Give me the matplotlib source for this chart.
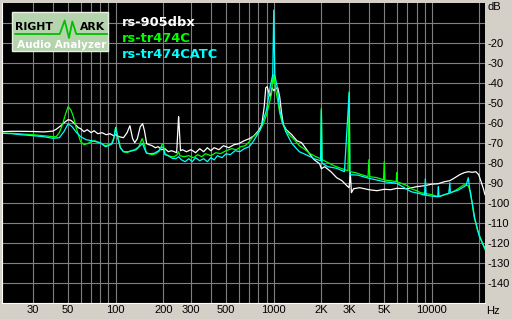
import numpy as np
import matplotlib
matplotlib.use("Agg")
import matplotlib.pyplot as plt
from matplotlib.patches import Rectangle

# rs-905dbx (white)
f_905dbx = [19, 22, 25, 30, 35, 40, 42, 45, 48, 50, 52, 55, 58, 60, 63, 66, 70, 73, 77, 82,
            87, 92, 97, 100, 105, 112, 118, 123, 128, 132, 137, 143, 148, 152, 157, 163, 170,
            178, 186, 195, 205, 215, 225, 235, 243, 248, 250, 253, 257, 265, 280, 300, 320,
            340, 360, 380, 400, 420, 450, 480, 520, 560, 600, 650, 700, 750, 800, 840, 870,
            890, 910, 930, 950, 975, 1000, 1030, 1060, 1090, 1120, 1150, 1200, 1300, 1400,
            1500, 1600, 1700, 1800, 1950, 2000, 2100, 2300, 2500, 2700, 2900, 3000, 3050,
            3100, 3200, 3500, 4000, 4500, 5000, 5500, 6000, 7000, 8000, 9000, 10000, 11000,
            12000, 13000, 14000, 15000, 16000, 17000, 18000, 19000, 19800, 20500, 21200, 21700]
db_905dbx = [-64.5, -64.3, -64.3, -64.4, -64.6, -64.2, -63.3, -61.5, -59.5, -58.5, -58.8,
             -60.5, -62.5, -63.0, -64.5, -63.5, -65.0, -64.0, -65.5, -65.0, -66.0, -65.5,
             -66.5, -66.0, -67.0, -67.5, -65.0, -61.5, -68.0, -70.0, -68.0, -62.0, -60.5,
             -64.0, -70.5, -71.0, -71.5, -72.5, -72.0, -73.5, -73.0, -74.5, -74.0, -74.5,
             -75.0, -62.0, -57.0, -64.0, -74.0, -73.5, -74.5, -73.5, -75.0, -73.0, -74.5,
             -72.5, -74.0, -72.5, -73.5, -71.5, -72.5, -71.0, -70.5, -69.0, -68.0, -66.5,
             -64.0, -61.0, -52.0, -42.5, -42.0, -45.0, -47.0, -42.5, -44.0, -43.0, -42.5,
             -47.0, -55.0, -61.0, -63.5, -66.0, -69.0, -70.0, -73.0, -76.0, -78.5, -80.5,
             -83.0, -82.0, -84.5, -87.5, -89.0, -91.5, -92.5, -85.0, -95.0, -93.0, -92.5,
             -93.5, -94.0, -93.3, -93.5, -92.8, -93.0, -92.0, -91.5, -90.7, -90.5, -89.5,
             -89.0, -87.5, -86.0, -85.0, -84.5, -84.8, -84.5, -86.0, -89.5, -93.0, -96.0]

# rs-tr474C (green)
f_474c = [19, 22, 25, 30, 35, 40, 42, 44, 46, 48, 50, 52, 54, 56, 58, 60, 63, 66, 70, 74, 78,
          82, 86, 90, 94, 97, 100, 103, 107, 112, 118, 125, 132, 140, 147, 152, 156, 162, 170,
          180, 190, 196, 200, 205, 215, 225, 235, 245, 250, 255, 270, 290, 310, 330, 350, 370,
          400, 430, 460, 500, 540, 580, 620, 660, 700, 740, 780, 820, 860, 900, 940, 970, 990,
          1000, 1010, 1030, 1060, 1090, 1130, 1180, 1250, 1350, 1450, 1550, 1700, 1850, 1980,
          2000, 2020, 2150, 2400, 2700, 2950, 3000, 3030, 3300, 3600, 3950, 4000, 4050, 4500,
          4950, 5000, 5050, 5500, 5950, 6000, 6050, 6500, 7000, 7400, 8000, 8500, 9000, 10000,
          11000, 12000, 13000, 14000, 15000, 16000, 17000, 17600, 18500, 19500, 20500, 21700]
db_474c = [-65.3, -65.3, -65.6, -66.0, -66.5, -67.0, -67.0, -65.0, -61.0, -56.0, -52.0, -53.5,
           -57.0, -62.0, -66.0, -69.5, -71.0, -70.5, -69.5, -69.0, -70.0, -70.5, -71.5, -71.0,
           -70.5, -68.0, -62.3, -67.0, -72.5, -74.5, -75.0, -74.0, -73.5, -72.0, -68.0, -71.0,
           -75.0, -75.5, -76.0, -75.5, -74.0, -71.0, -70.5, -75.5, -76.5, -77.0, -77.0, -76.0,
           -74.5, -76.5, -77.0, -76.5, -77.5, -76.0, -77.0, -75.5, -76.5, -75.0, -75.5, -74.0,
           -73.0, -73.5, -72.0, -71.5, -69.5, -67.0, -65.5, -63.5, -60.5, -56.0, -50.0, -45.0,
           -36.0, -40.0, -36.0, -44.0, -49.0, -55.0, -60.0, -63.0, -66.0, -68.5, -71.5, -73.0,
           -75.5, -77.0, -78.0, -52.7, -78.5, -79.5, -81.5, -83.0, -84.0, -44.5, -84.5, -85.0,
           -86.0, -87.0, -78.5, -87.0, -87.5, -88.5, -79.5, -88.7, -89.0, -89.5, -85.0, -89.5,
           -90.5, -91.5, -93.0, -94.0, -95.0, -95.3, -96.0, -97.0, -96.0, -95.3, -94.0, -92.5,
           -91.0, -91.5, -95.0, -107.0, -114.0, -118.5, -123.5]

# rs-tr474CATC (cyan)
f_474catc = [19, 22, 25, 30, 35, 40, 44, 47, 50, 53, 56, 60, 65, 70, 75, 80, 86, 90, 95, 98,
             100, 103, 107, 112, 120, 128, 135, 143, 148, 152, 157, 165, 175, 187, 196, 200,
             205, 215, 228, 240, 250, 260, 275, 290, 305, 320, 340, 360, 380, 400, 420, 440,
             470, 500, 530, 570, 610, 650, 700, 740, 780, 820, 860, 900, 950, 985, 1000, 1015,
             1050, 1090, 1140, 1190, 1300, 1450, 1600, 1800, 1980, 2000, 2020, 2200, 2500,
             2800, 3000, 3030, 3400, 4000, 5000, 6000, 6800, 7400, 8400, 9000, 9100, 9200,
             10000, 10900, 11000, 11100, 12000, 12800, 13000, 13100, 14700, 16000, 16500,
             17000, 17500, 18000, 18700, 20000, 21700]
db_474catc = [-65.3, -65.5, -66.0, -66.5, -67.0, -67.8, -67.5, -64.5, -60.5, -62.0, -64.5,
              -67.0, -68.5, -69.0, -69.5, -70.0, -72.0, -71.5, -70.5, -67.0, -62.3, -67.5,
              -72.5, -74.5, -74.5, -74.0, -73.5, -71.5, -70.3, -73.0, -75.3, -75.5, -75.3,
              -74.0, -72.0, -72.5, -76.0, -76.5, -77.8, -78.0, -77.0, -78.5, -79.5, -78.0,
              -79.5, -77.5, -79.0, -78.0, -79.5, -77.5, -78.6, -76.5, -77.5, -75.5, -76.0,
              -74.0, -74.5, -73.0, -72.0, -69.5, -66.5, -63.6, -58.5, -53.6, -42.0, -36.0,
              -3.7, -36.0, -42.0, -53.6, -60.0, -64.5, -70.3, -74.5, -76.0, -78.0, -79.0,
              -53.6, -80.3, -82.0, -82.8, -84.5, -45.0, -86.0, -86.2, -87.8, -89.5, -90.3,
              -92.8, -94.5, -95.5, -96.2, -88.0, -96.3, -96.7, -97.0, -92.0, -97.0, -96.0,
              -95.3, -90.0, -95.0, -93.7, -92.0, -91.2, -87.5, -95.0, -100.0, -107.8, -117.0,
              -122.8]

grid_f = [30, 40, 50, 60, 70, 80, 90, 100, 200, 300, 400, 500, 600, 700, 800, 900,
          1000, 2000, 3000, 4000, 5000, 6000, 7000, 8000, 9000, 10000, 20000]
grid_lbl = ["30", "", "50", "", "", "", "", "100", "200", "300", "", "500", "", "", "", "",
            "1000", "2K", "3K", "", "5K", "", "", "", "", "10000", ""]
db_ticks = list(range(-140, 0, 10))
db_lbl = [str(v) for v in db_ticks]
db_lbl[-1] = ""

bg = "#d4d0c8"
fig = plt.figure(figsize=(5.12, 3.19), dpi=100, facecolor=bg)
ax = fig.add_axes([1.7 / 512, 16.3 / 319, 483.3 / 512, 300 / 319])
ax.set_facecolor("black")

ax.plot(f_905dbx, db_905dbx, color="white", lw=0.9)
ax.plot(f_474c, db_474c, color="#00ff00", lw=0.9)
ax.plot(f_474catc, db_474catc, color="#00ffff", lw=0.9)

ax.set_xscale("log")
ax.set_xlim(19, 21700)
ax.set_ylim(-150, 0)
ax.xaxis.set_minor_locator(matplotlib.ticker.NullLocator())
ax.set_xticks(grid_f)
ax.set_xticklabels(grid_lbl, fontsize=8, family="Liberation Sans")
ax.yaxis.tick_right()
ax.set_yticks(db_ticks)
ax.set_yticklabels(db_lbl, fontsize=8, family="Liberation Sans")
ax.tick_params(length=0, pad=2)
ax.grid(True, color="#808080", lw=0.8)
ax.set_axisbelow(True)
for s in ["top", "right"]:
    ax.spines[s].set_visible(False)
for s in ["left", "bottom"]:
    ax.spines[s].set_color("white")
    ax.spines[s].set_linewidth(0.8)

fig.text(487.5 / 512, 1 - 7.5 / 319, "dB", fontsize=8, family="Liberation Sans", va="center")
fig.text(486 / 512, 1 - 311.5 / 319, "Hz", fontsize=8, family="Liberation Sans", va="center")

# legend
fig.text(122 / 512, 1 - 22.5 / 319, "rs-905dbx", color="white", fontsize=9.4, weight="bold", va="center")
fig.text(122 / 512, 1 - 38.3 / 319, "rs-tr474C", color="#00ff00", fontsize=9.4, weight="bold", va="center")
fig.text(122 / 512, 1 - 54 / 319, "rs-tr474CATC", color="#00ffff", fontsize=9.4, weight="bold", va="center")

# logo
ov = fig.add_axes([0, 0, 1, 1])
ov.set_xlim(0, 512)
ov.set_ylim(319, 0)
ov.axis("off")
ov.add_patch(Rectangle((12, 12), 96, 39, fc="#b5d3ad", ec="#e8f0e6", lw=1))
ov.plot([15.3, 59.7, 64.7, 69, 72.3, 76.3, 107], [34, 34, 20.5, 38, 21.5, 34, 34], color="#00c000", lw=1.3)
ov.text(15.5, 27, "RIGHT", fontsize=7.8, weight="bold", color="black", va="center")
ov.text(79.5, 27, "ARK", fontsize=7.8, weight="bold", color="black", va="center")
ov.text(17, 45.5, "Audio Analyzer", fontsize=7.6, weight="bold", color="white", va="center")

plt.savefig("out.png", dpi=100, facecolor=bg)
